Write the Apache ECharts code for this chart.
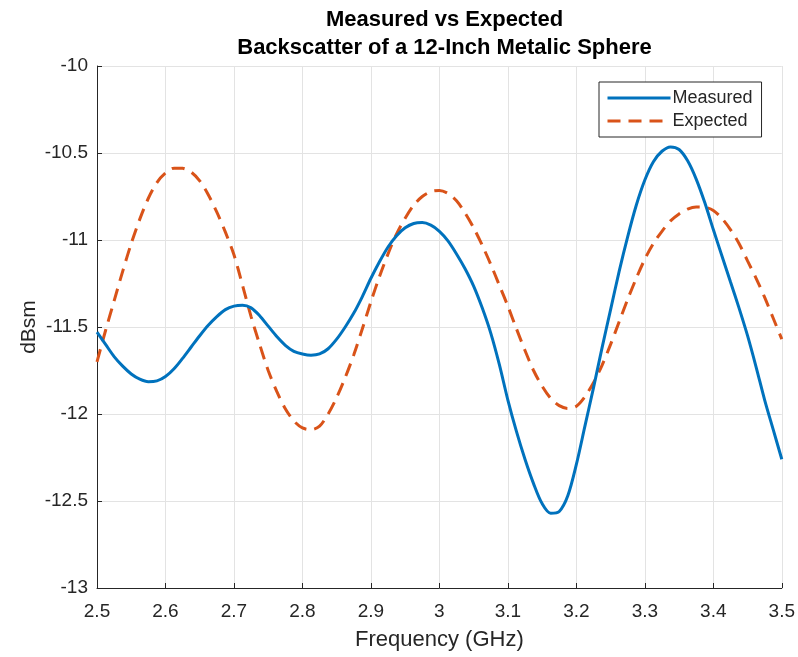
<!DOCTYPE html>
<html>
<head>
<meta charset="utf-8">
<script src="https://cdn.jsdelivr.net/npm/echarts@6/dist/echarts.min.js"></script>
<style>html,body{margin:0;padding:0;background:#fff;}#c{width:798px;height:657px;}</style>
</head>
<body>
<div id="c"></div>
<script>
var freqGHz = [2.5,2.5125,2.525,2.5375,2.55,2.5625,2.575,2.5875,2.6,2.6125,2.625,2.6375,2.65,2.6625,2.675,2.6875,2.7,2.7125,2.725,2.7375,2.75,2.7625,2.775,2.7875,2.8,2.8125,2.825,2.8375,2.85,2.8625,2.875,2.8875,2.9,2.9125,2.925,2.9375,2.95,2.9625,2.975,2.9875,3.0,3.0125,3.025,3.0375,3.05,3.0625,3.075,3.0875,3.1,3.1125,3.125,3.1375,3.15,3.1625,3.175,3.1875,3.2,3.2125,3.225,3.2375,3.25,3.2625,3.275,3.2875,3.3,3.3125,3.325,3.3375,3.35,3.3625,3.375,3.3875,3.4,3.4125,3.425,3.4375,3.45,3.4625,3.475,3.4875,3.5];
var measuredDbsm = [-11.53,-11.60,-11.67,-11.725,-11.77,-11.80,-11.815,-11.81,-11.785,-11.74,-11.68,-11.615,-11.55,-11.49,-11.44,-11.40,-11.38,-11.375,-11.39,-11.435,-11.495,-11.555,-11.605,-11.64,-11.655,-11.662,-11.655,-11.625,-11.57,-11.50,-11.42,-11.325,-11.22,-11.125,-11.04,-10.975,-10.93,-10.905,-10.90,-10.915,-10.95,-11.005,-11.08,-11.165,-11.265,-11.39,-11.535,-11.715,-11.92,-12.10,-12.26,-12.40,-12.515,-12.57,-12.56,-12.47,-12.29,-12.07,-11.85,-11.62,-11.40,-11.18,-10.98,-10.80,-10.655,-10.55,-10.49,-10.465,-10.48,-10.545,-10.65,-10.785,-10.94,-11.09,-11.24,-11.39,-11.55,-11.73,-11.92,-12.09,-12.26];
var expectedDbsm = [-11.70,-11.52,-11.35,-11.18,-11.02,-10.88,-10.76,-10.67,-10.615,-10.587,-10.588,-10.61,-10.66,-10.74,-10.84,-10.955,-11.085,-11.26,-11.44,-11.60,-11.75,-11.87,-11.97,-12.04,-12.08,-12.09,-12.07,-12.0,-11.905,-11.79,-11.66,-11.51,-11.355,-11.21,-11.08,-10.965,-10.875,-10.80,-10.75,-10.722,-10.715,-10.732,-10.775,-10.845,-10.93,-11.03,-11.14,-11.26,-11.38,-11.51,-11.635,-11.75,-11.84,-11.91,-11.952,-11.968,-11.955,-11.90,-11.82,-11.72,-11.60,-11.47,-11.34,-11.22,-11.11,-11.02,-10.95,-10.89,-10.85,-10.822,-10.81,-10.812,-10.83,-10.875,-10.94,-11.02,-11.12,-11.22,-11.33,-11.45,-11.57];
var seriesNames = ['Measured','Expected'];
var titleLines = ['Measured vs Expected','Backscatter of a 12-Inch Metalic Sphere'];

function pairs(xs, ys){ return xs.map(function(x,i){return [x, ys[i]];}); }

var chart = echarts.init(document.getElementById('c'));
var axisCol = '#262626';
var font = 'Liberation Sans, Arial, Helvetica, sans-serif';
chart.setOption({
  backgroundColor:'#fff',
  animation:false,
  title:{
    text: titleLines.join('\n'),
    left: 439.5, top: 1, textAlign:'center',
    textStyle:{fontSize:22, fontWeight:'bold', color:'#000', lineHeight:28, fontFamily:font}
  },
  grid:{left:97, right:16, top:66, bottom:69, containLabel:false},
  legend:{
    orient:'vertical', left:599, top:82,
    padding:[7,9,7,7],
    itemGap:5,
    itemWidth:63, itemHeight:14,
    borderColor:axisCol, borderWidth:1, backgroundColor:'#fff',
    itemStyle:{opacity:0},
    lineStyle:{width:3},
    textStyle:{fontSize:18, color:axisCol, fontFamily:font, padding:[0,0,0,-3]},
    data:[{name:seriesNames[0]},{name:seriesNames[1]}]
  },
  xAxis:{
    type:'value', min:2.5, max:3.5, interval:0.1,
    name:'Frequency (GHz)', nameLocation:'middle', nameGap:41, nameMoveOverlap:false,
    nameTextStyle:{fontSize:22, color:axisCol, fontFamily:font},
    axisLine:{show:true, onZero:false, lineStyle:{color:axisCol, width:1}},
    axisTick:{show:true, inside:true, length:5, lineStyle:{color:axisCol}},
    axisLabel:{fontSize:19, color:axisCol, fontFamily:font, margin:14,
      formatter:function(v){return String(Math.round(v*10)/10);}},
    splitLine:{show:true, lineStyle:{color:'#e3e3e3', width:1}}
  },
  yAxis:{
    type:'value', min:-13, max:-10, interval:0.5,
    name:'dBsm', nameLocation:'middle', nameGap:57, nameMoveOverlap:false,
    nameTextStyle:{fontSize:21, color:axisCol, fontFamily:font},
    axisLine:{show:true, onZero:false, lineStyle:{color:axisCol, width:1}},
    axisTick:{show:true, inside:true, length:5, lineStyle:{color:axisCol}},
    axisLabel:{fontSize:19, color:axisCol, fontFamily:font, margin:9},
    splitLine:{show:true, lineStyle:{color:'#e3e3e3', width:1}}
  },
  series:[
    {name:seriesNames[0], type:'line', data:pairs(freqGHz, measuredDbsm), smooth:0.3,
     symbol:'none', showSymbol:false, color:'#0072BD', lineStyle:{color:'#0072BD', width:3}, z:3},
    {name:seriesNames[1], type:'line', data:pairs(freqGHz, expectedDbsm), smooth:0.3,
     symbol:'none', showSymbol:false, color:'#D95319', lineStyle:{color:'#D95319', width:3, type:[13,8]}, z:2}
  ]
});
</script>
</body>
</html>
